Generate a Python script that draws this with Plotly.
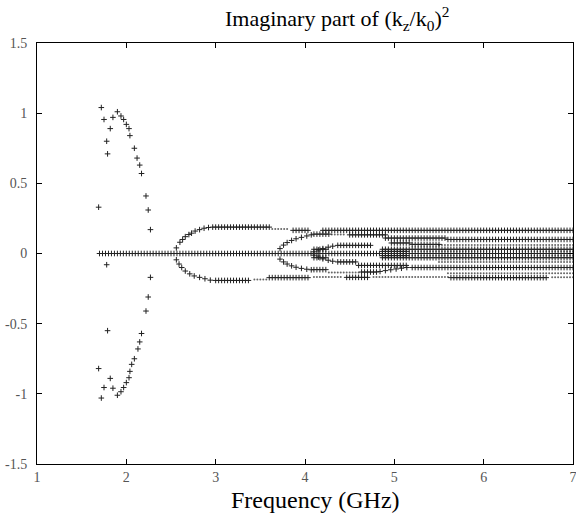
import numpy as np
import plotly.graph_objects as go

# ---------------- data ----------------
# frequency sampling grid of the computation (GHz)
freq_grid = np.round(np.linspace(1.70, 7.00, 160), 4)

# left loop of complex roots (explicit points)
loop_up_f = [1.69, 1.72, 1.75, 1.78, 1.79, 1.82, 1.85, 1.90, 1.94, 1.97, 2.00, 2.03, 2.04, 2.09, 2.12, 2.15, 2.17, 2.22, 2.245, 2.27]
loop_up_y = [0.33, 1.04, 0.955, 0.80, 0.71, 0.89, 0.97, 1.01, 0.98, 0.955, 0.92, 0.89, 0.84, 0.75, 0.68, 0.63, 0.57, 0.41, 0.31, 0.17]
loop_lo_f = [1.69, 1.72, 1.75, 1.78, 1.79, 1.82, 1.85, 1.90, 1.94, 1.97, 2.00, 2.03, 2.04, 2.06, 2.09, 2.13, 2.15, 2.17, 2.22, 2.245, 2.27]
loop_lo_y = [-0.82, -1.03, -0.955, -0.08, -0.55, -0.89, -0.96, -1.01, -0.985, -0.955, -0.92, -0.885, -0.84, -0.79, -0.75, -0.68, -0.63, -0.57, -0.41, -0.31, -0.17]

# branches leaving the real axis (explicit points)
outer_up_f = [2.56, 2.60, 2.63, 2.66, 2.70, 2.73, 2.77, 2.82, 2.87, 2.92]
outer_up_y = [0.04, 0.08, 0.10, 0.12, 0.135, 0.145, 0.16, 0.17, 0.18, 0.185]
outer_lo_f = [2.56, 2.59, 2.62, 2.66, 2.71, 2.76, 2.82, 2.88, 2.94]
outer_lo_y = [-0.045, -0.075, -0.10, -0.125, -0.145, -0.16, -0.17, -0.18, -0.19]
second_up_f = [3.72, 3.76, 3.80, 3.85, 3.90, 3.96, 4.02, 4.07]
second_up_y = [0.035, 0.06, 0.078, 0.093, 0.105, 0.115, 0.125, 0.133]
second_lo_f = [3.72, 3.76, 3.80, 3.85, 3.90, 3.96, 4.02, 4.07]
second_lo_y = [-0.04, -0.06, -0.075, -0.088, -0.098, -0.106, -0.112, -0.116]
third_up_f = [4.10, 4.15, 4.20, 4.26, 4.31]
third_up_y = [0.012, 0.025, 0.035, 0.045, 0.052]
third_lo_f = [4.10, 4.15, 4.20, 4.26, 4.31]
third_lo_y = [-0.012, -0.025, -0.038, -0.048, -0.055]
bend_lo_f = [4.84, 4.90, 4.96, 5.02, 5.08, 5.14]
bend_lo_y = [-0.128, -0.122, -0.116, -0.11, -0.105, -0.10]

# nearly flat root tracks: level, start GHz, end GHz  ('+' markers)
cross_level = [0.0, 0.188, 0.165, 0.165, -0.192, -0.172, -0.17, -0.172,
               0.138, 0.133, -0.115, -0.132, 0.11, 0.10, -0.10, -0.085,
               0.058, 0.075, 0.065, -0.06, 0.03, -0.03, 0.03, -0.03,
               0.015, -0.015]
cross_start = [1.70, 2.95, 3.85, 4.18, 2.97, 3.60, 4.45, 5.62,
               4.10, 4.47, 4.09, 4.62, 4.88, 5.60, 5.20, 4.60,
               4.35, 4.95, 5.17, 4.35, 4.09, 4.09, 4.84, 4.84,
               4.85, 4.85]
cross_end = [7.00, 3.60, 4.06, 7.00, 3.38, 4.06, 4.72, 6.72,
             4.28, 4.92, 4.24, 4.80, 5.58, 7.00, 7.00, 5.14,
             4.76, 5.17, 5.50, 4.58, 4.24, 4.24, 7.00, 7.00,
             5.15, 5.15]

# faint dotted tracks ('.' markers)
dot_level = [0.175, -0.185, -0.168, -0.168, -0.17, 0.06, -0.06, -0.14, 0.135, -0.135]
dot_start = [3.62, 3.41, 4.08, 4.75, 6.75, 5.50, 5.50, 5.60, 4.30, 4.24]
dot_end = [3.82, 3.58, 4.42, 5.60, 7.00, 7.00, 7.00, 7.00, 4.45, 4.60]


def track(levels, starts, ends):
    xs, ys = [], []
    for lv, a, b in zip(levels, starts, ends):
        sel = freq_grid[(freq_grid >= a - 1e-9) & (freq_grid <= b + 1e-9)]
        xs.extend(sel.tolist())
        ys.extend([lv] * len(sel))
    return xs, ys


cx, cy = track(cross_level, cross_start, cross_end)
for fx, fy in [(loop_up_f, loop_up_y), (loop_lo_f, loop_lo_y),
               (outer_up_f, outer_up_y), (outer_lo_f, outer_lo_y),
               (second_up_f, second_up_y), (second_lo_f, second_lo_y),
               (third_up_f, third_up_y), (third_lo_f, third_lo_y),
               (bend_lo_f, bend_lo_y)]:
    cx.extend(fx)
    cy.extend(fy)
dx, dy = track(dot_level, dot_start, dot_end)

# ---------------- figure ----------------
fig = go.Figure()
fig.add_trace(go.Scatter(
    x=cx, y=cy, mode="markers",
    marker=dict(symbol="cross-thin", size=4, color="#222222",
                line=dict(width=1, color="#222222")),
    hoverinfo="skip", showlegend=False))
fig.add_trace(go.Scatter(
    x=dx, y=dy, mode="markers",
    marker=dict(symbol="circle", size=2, color="rgba(0,0,0,0.6)"),
    hoverinfo="skip", showlegend=False))

tickfont = dict(family="Liberation Serif", size=14, color="#555555")
fig.update_xaxes(range=[1, 7], tickvals=[1, 2, 3, 4, 5, 6, 7],
                 ticks="inside", ticklen=5, tickcolor="black",
                 showline=True, linecolor="black", linewidth=1, mirror="ticks",
                 showgrid=False, zeroline=False, tickfont=tickfont,
                 ticklabeloverflow="allow", automargin=False)
fig.update_yaxes(range=[-1.5, 1.5], tickvals=[-1.5, -1, -0.5, 0, 0.5, 1, 1.5],
                 ticktext=["-1.5", "-1", "-0.5", "0", "0.5", "1", "1.5"],
                 ticks="inside", ticklen=5, tickcolor="black",
                 showline=True, linecolor="black", linewidth=1, mirror="ticks",
                 showgrid=False, zeroline=False, tickfont=tickfont,
                 ticklabelstandoff=6, ticklabeloverflow="allow", automargin=False)

fig.update_layout(
    width=576, height=521,
    margin=dict(l=37, r=3, t=43, b=57),
    plot_bgcolor="white", paper_bgcolor="white",
    annotations=[
        dict(text="Imaginary part of (k<sub>z</sub>/k<sub>0</sub>)<sup>2</sup>",
             xref="paper", yref="paper", x=0.56, y=1.0 + 25 / 421,
             xanchor="center", yanchor="middle", showarrow=False,
             font=dict(family="Liberation Serif", size=22, color="black")),
        dict(text="Frequency (GHz)",
             xref="paper", yref="paper", x=0.519, y=-36 / 421,
             xanchor="center", yanchor="middle", showarrow=False,
             font=dict(family="Liberation Serif", size=24, color="black")),
    ],
)

fig.write_html("out.html")
